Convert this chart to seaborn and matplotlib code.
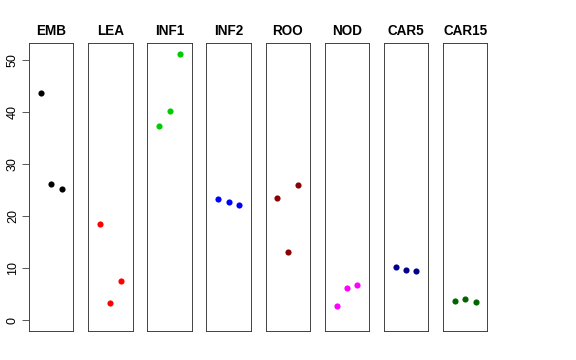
import pandas as pd
import seaborn as sns
import matplotlib.pyplot as plt

sns.set_style('white')
plt.rcParams['font.family'] = ['Liberation Sans', 'DejaVu Sans']
plt.rcParams['text.color'] = 'black'
plt.rcParams['ytick.color'] = 'black'

groups = ['EMB', 'LEA', 'INF1', 'INF2', 'ROO', 'NOD', 'CAR5', 'CAR15']
colors = ['#000000', '#FF0000', '#00CD00', '#0000FF', '#8B0000', '#FF00FF', '#00008B', '#006400']
rep = [1, 2, 3]
emb = [43.7, 26.2, 25.3]
lea = [18.5, 3.3, 7.6]
inf1 = [37.4, 40.3, 51.2]
inf2 = [23.2, 22.8, 22.2]
roo = [23.5, 13.1, 26.0]
nod = [2.8, 6.1, 6.8]
car5 = [10.2, 9.7, 9.5]
car15 = [3.6, 4.0, 3.5]
values = [emb, lea, inf1, inf2, roo, nod, car5, car15]

df = pd.DataFrame({
    'group': [g for g in groups for _ in rep],
    'rep': rep * len(groups),
    'value': [v for vals in values for v in vals],
})

fig, axes = plt.subplots(1, 8, figsize=(8, 5), dpi=72, sharey=True)
fig.subplots_adjust(left=29/576, right=487.5/576, top=1-43/360, bottom=1-331/360, wspace=0.33)

for ax, g, c in zip(axes, groups, colors):
    sub = df[df['group'] == g]
    sns.scatterplot(data=sub, x='rep', y='value', color=c, s=38, linewidth=0, ax=ax)
    ax.set_xlim(-0.15, 4.15)
    ax.set_ylim(-2.1, 53.3)
    ax.set_xticks([])
    ax.set_xlabel('')
    ax.set_ylabel('')
    ax.set_title(g, fontsize=13.5, fontweight='bold', color='black', pad=8)
    for s in ax.spines.values():
        s.set_color('#333333')
        s.set_linewidth(0.9)

axes[0].set_yticks([0, 10, 20, 30, 40, 50])
axes[0].tick_params(axis='y', left=True, length=7, width=0.8, color='#333333', labelsize=12.5, pad=3)
for lab in axes[0].get_yticklabels():
    lab.set_rotation(90)
    lab.set_va('center')
for ax in axes[1:]:
    ax.tick_params(axis='y', left=False, labelleft=False)

plt.savefig('out.png', dpi=72)
